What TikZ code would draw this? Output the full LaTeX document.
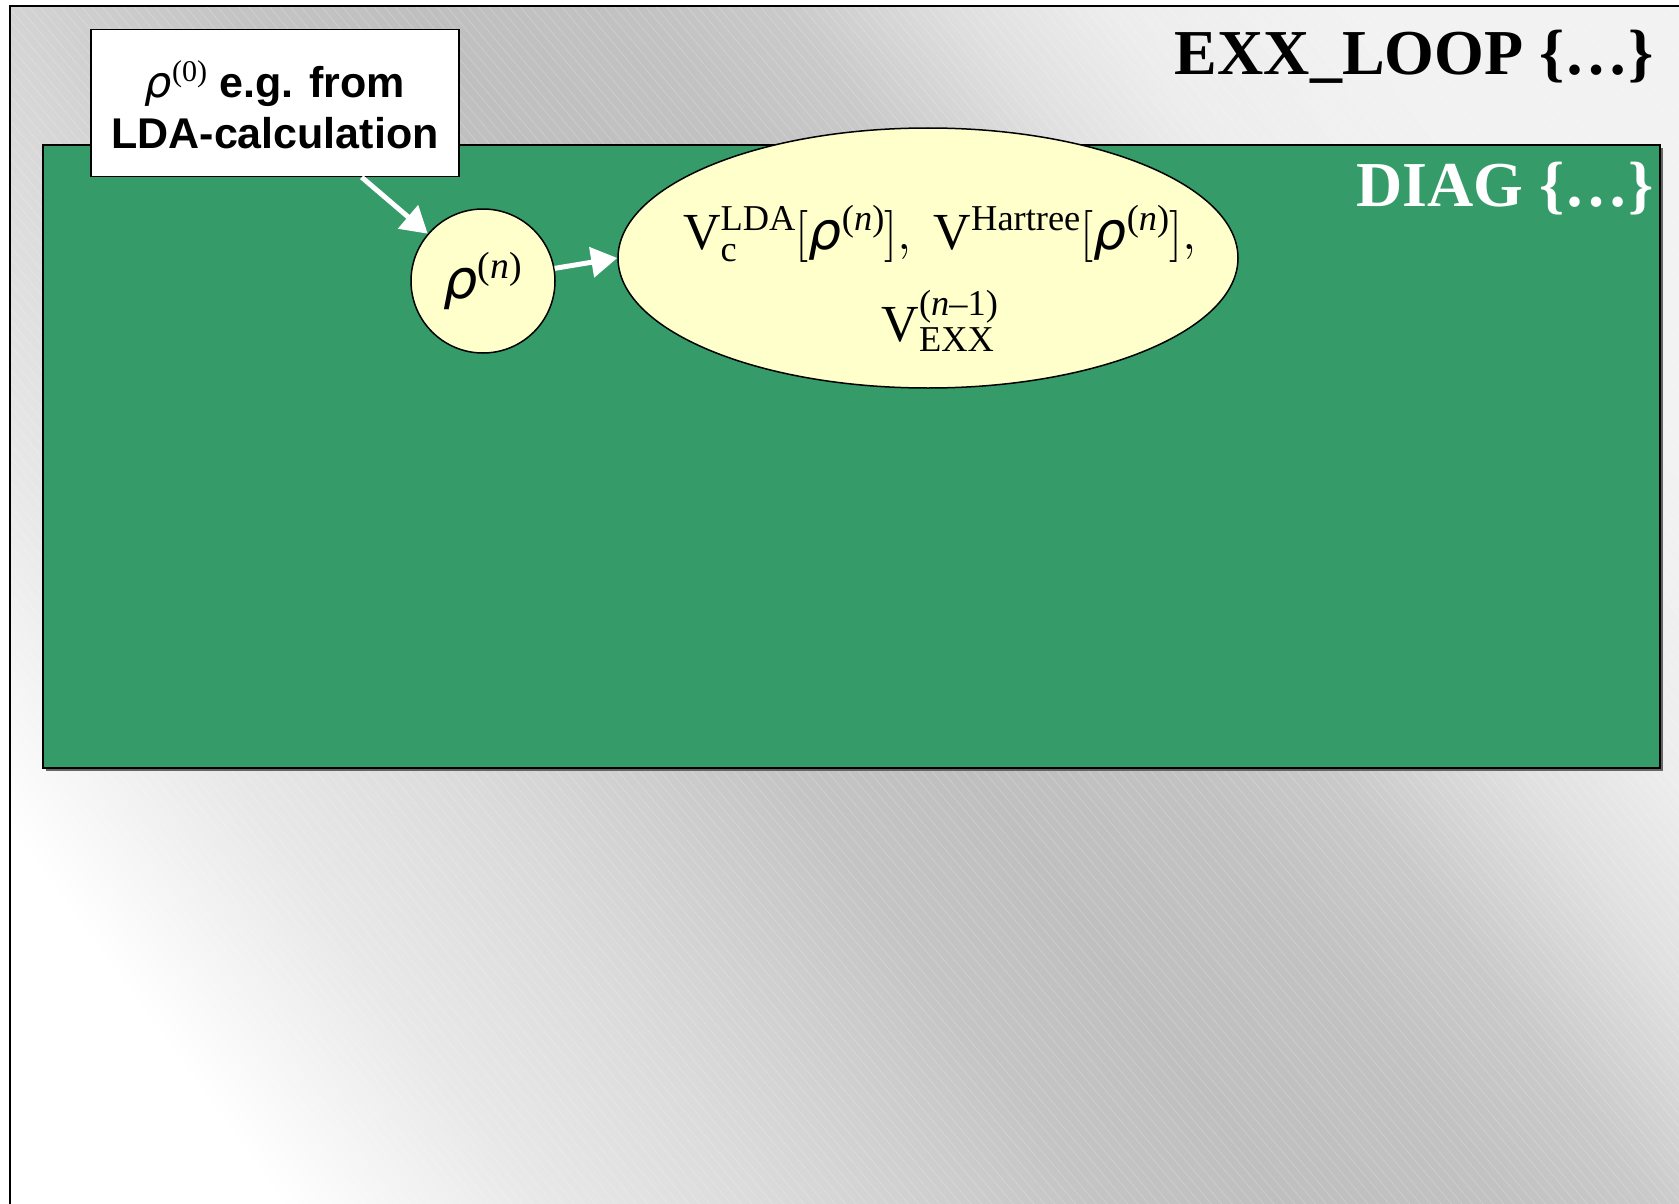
\RequirePackage{fix-cm}
\documentclass[tikz,border=0pt]{standalone}
\usepackage{amsmath}
\usepackage{fontspec}
\setmainfont{Liberation Serif}
\setsansfont{Liberation Sans}
\newfontfamily\greekfont{DejaVu Sans}
\usetikzlibrary{arrows.meta,shapes.geometric,patterns.meta}

\definecolor{diaggreen}{RGB}{53,155,104}
\definecolor{potyellow}{RGB}{255,255,204}
\pgfdeclareverticalshading{backdrop}{100bp}{color(0bp)=(white); color(23bp)=(white);
  color(30bp)=(black!9); color(36bp)=(black!14); color(40bp)=(black!18); color(45bp)=(black!23);
  color(50bp)=(black!25); color(56bp)=(black!24); color(60bp)=(black!21); color(65bp)=(black!12);
  color(69bp)=(black!7); color(76bp)=(black!5); color(100bp)=(black!5)}

% density with its iteration index
\newcommand{\rh}{\text{\greekfont\mdseries\itshape ρ}}
\newcommand{\dens}[1]{\rh^{\text{\rmfamily\mdseries(#1)}}}

\begin{document}
\begin{tikzpicture}[x=1pt,y=-1pt]
\tikzset{blob/.style={draw,line width=1.5pt,fill=potyellow,font=\fontsize{54}{92}\selectfont}}
\tikzset{flow/.style={white,line width=5pt,-{Triangle[length=26pt,width=30pt]}}}
\tikzset{title/.style={anchor=base east,inner sep=0pt,font=\bfseries\fontsize{64}{70}\selectfont}}
\useasboundingbox (0,0) rectangle (1679,1204);

% outer loop backdrop
\shade[shading=backdrop,shading angle=-54] (10,6) rectangle (1700,1230);
\fill[pattern={Lines[angle=-50,distance=8pt,line width=0.8pt]},pattern color=white,opacity=0.2]
  (10,6) rectangle (1700,1230);
\draw[line width=1.5pt] (10,1230) -- (10,6) -- (1700,6);
\node[title] (loop) at (1654,75) {EXX\_LOOP \{…\}};

% inner diagonalisation block
\fill[black!60] (46,148) rectangle (1663,771);
\draw[line width=1.5pt,fill=diaggreen] (43,145) rectangle (1660,768);
\node[title,white] (diag) at (1654,206) {DIAG \{…\}};

% start density
\node[draw,fill=white,line width=1.5pt,minimum width=368pt,minimum height=147pt,
  align=center,font=\sffamily\bfseries\fontsize{43}{51}\selectfont]
  (lda) at (275,103) {\rule{0pt}{40pt}$\dens{0}$ e.g. from\\LDA-calculation};

\node[blob,circle,minimum size=144pt,inner sep=0pt] (rhon) at (483,281) {$\dens{\textit{n}}$};
\node[blob,ellipse,minimum width=620pt,minimum height=260pt] (vpot) at (928,258) {};
\node[font=\fontsize{52}{92}\selectfont,align=center,xshift=12pt,yshift=-20pt] (vtext) at (vpot.center)
  {$\mathrm{V}_{\mathrm{c}}^{\mathrm{LDA}}[\dens{\textit{n}}],\ \mathrm{V}^{\mathrm{Hartree}}[\dens{\textit{n}}],$\\
   $\mathrm{V}_{\mathrm{EXX}}^{\text{(\textit{n}–1)}}$};

\draw[flow] (lda) -- (rhon);
\draw[flow] (rhon.10) -- (vpot.west);

\end{tikzpicture}
\end{document}
